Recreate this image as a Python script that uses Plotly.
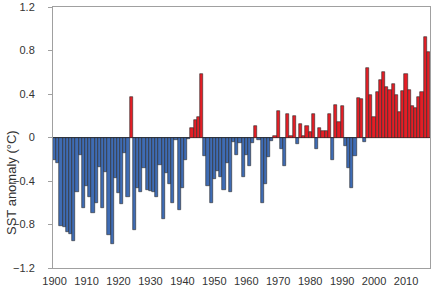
import plotly.graph_objects as go

years = list(range(1900, 2018))
anomaly = [
    -0.21, -0.23, -0.81, -0.82, -0.87, -0.89, -0.95, -0.50, -0.16, -0.65,
    -0.45, -0.55, -0.69, -0.60, -0.27, -0.65, -0.32, -0.90, -0.98, -0.37,
    -0.51, -0.61, -0.14, -0.55, 0.37, -0.85, -0.46, -0.50, -0.28, -0.48,
    -0.49, -0.50, -0.55, -0.25, -0.75, -0.33, -0.43, -0.60, -0.02, -0.67,
    -0.46, -0.21, -0.01, 0.09, 0.16, 0.19, 0.58, -0.17, -0.45, -0.60,
    -0.38, -0.31, -0.36, -0.48, -0.23, -0.50, -0.04, -0.16, -0.05, -0.36,
    -0.16, -0.26, -0.05, 0.11, -0.02, -0.60, -0.43, -0.18, -0.03, 0.01,
    0.24, -0.11, -0.26, 0.22, 0.01, 0.20, -0.06, 0.12, 0.01, 0.11,
    0.05, 0.22, -0.11, 0.09, 0.06, 0.06, 0.22, -0.21, 0.30, 0.14,
    0.29, -0.08, -0.28, -0.46, -0.17, 0.36, 0.35, -0.04, 0.64, 0.39,
    0.19, 0.42, 0.53, 0.60, 0.46, 0.44, 0.49, 0.39, 0.23, 0.43,
    0.58, 0.44, 0.29, 0.27, 0.37, 0.42, 0.92, 0.79,
]
x_ticks = list(range(1900, 2011, 10))
y_ticks = [-1.2, -0.8, -0.4, 0, 0.4, 0.8, 1.2]
y_tick_text = ["\u22121.2", "\u22120.8", "\u22120.4", "0", "0.4", "0.8", "1.2"]

BLUE = "#3f6cb4"
RED = "#e41e26"
colors = [RED if v > 0 else BLUE for v in anomaly]

fig = go.Figure()
fig.add_trace(go.Bar(
    x=years, y=anomaly, width=1.0,
    marker=dict(color=colors, line=dict(color="#2a2a2a", width=0.6)),
    showlegend=False, hoverinfo="x+y",
))

font_family = "Liberation Sans, Arial, Helvetica, sans-serif"
fig.update_layout(
    width=432, height=289,
    margin=dict(l=53, r=2, t=7, b=21),
    paper_bgcolor="white", plot_bgcolor="white",
    bargap=0,
    font=dict(family=font_family, size=11, color="#333333"),
    xaxis=dict(
        range=[1899.5, 2017.5], tickmode="array", tickvals=x_ticks,
        ticks="outside", ticklen=3, tickcolor="rgba(0,0,0,0)",
        showgrid=False, zeroline=False,
        showline=True, linecolor="#a0a0a0", linewidth=1, mirror=True,
        tickfont=dict(size=11, color="#333333"),
    ),
    yaxis=dict(
        range=[-1.2, 1.2], tickmode="array", tickvals=y_ticks, ticktext=y_tick_text,
        ticks="outside", ticklen=4, tickcolor="#a0a0a0", tickwidth=1,
        ticklabelstandoff=11,
        showgrid=False, zeroline=True, zerolinecolor="#333333", zerolinewidth=0.8,
        showline=True, linecolor="#a0a0a0", linewidth=1, mirror=True,
        tickfont=dict(size=11, color="#333333"),
    ),
    annotations=[dict(
        text="SST anomaly (\u00b0C)", xref="paper", yref="paper",
        x=(11 - 53) / 377, y=(268 - 183) / 261, xanchor="center", yanchor="middle",
        textangle=-90, showarrow=False,
        font=dict(size=13, color="#333333", family=font_family),
    )],
)

fig.write_html(
    "out.html",
    config={"displayModeBar": False},
    post_script="document.body.style.margin='0';document.body.style.overflow='hidden';",
)
